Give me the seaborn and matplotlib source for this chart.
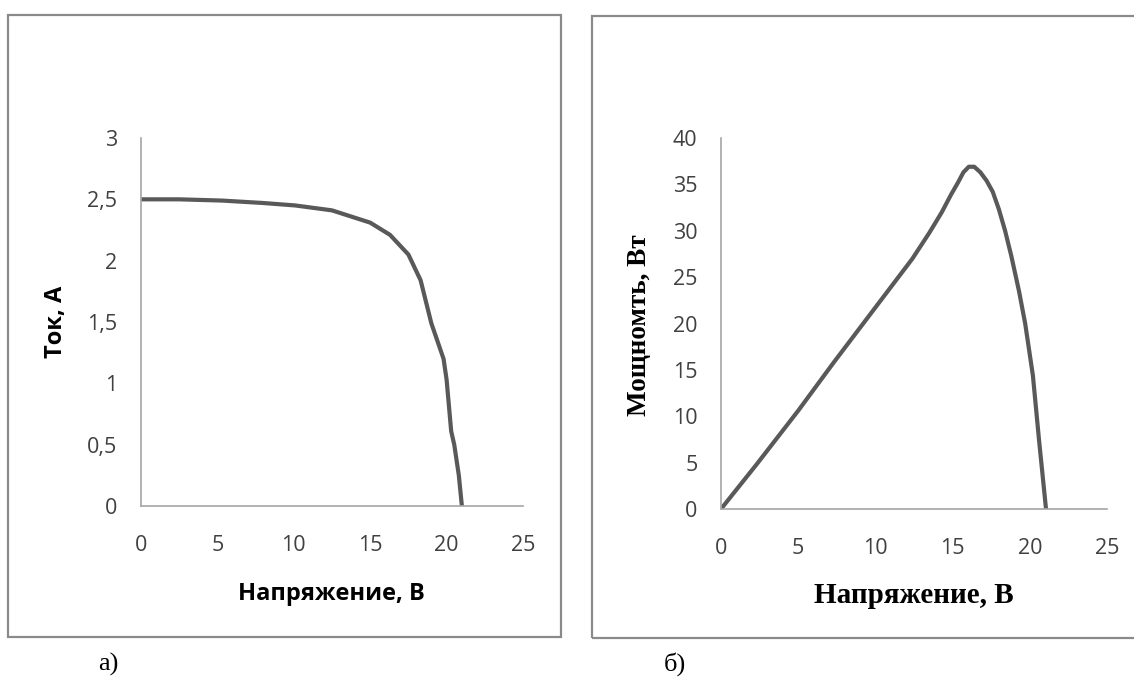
import numpy as np
import pandas as pd
import matplotlib
matplotlib.use("Agg")
import matplotlib.pyplot as plt
from matplotlib.patches import Rectangle
import seaborn as sns

# ---- data ----
iv_voltage = [0, 2.5, 5.3, 8.0, 10.1, 12.5, 15.0, 16.3, 17.5, 18.3, 19.0, 19.8, 20.0, 20.3, 20.5, 20.8, 21.0]
iv_current = [2.5, 2.5, 2.49, 2.47, 2.45, 2.41, 2.31, 2.21, 2.05, 1.84, 1.49, 1.20, 1.03, 0.61, 0.50, 0.25, 0.0]

pv_voltage = [0, 2.3, 5.0, 7.3, 9.85, 12.4, 13.5, 14.3, 14.9, 15.35, 15.7, 16.05, 16.4, 16.8, 17.2, 17.6, 18.0, 18.4, 18.8, 19.3, 19.7, 20.2, 20.6, 21.05]
pv_power = [0, 4.8, 10.6, 15.8, 21.4, 27.0, 29.8, 32.0, 33.9, 35.2, 36.3, 36.9, 36.9, 36.3, 35.4, 34.2, 32.3, 30.0, 27.3, 23.5, 20.0, 14.4, 7.4, 0.0]

x_ticks = [0, 5, 10, 15, 20, 25]
x_ticklabels = ["0", "5", "10", "15", "20", "25"]
iv_yticks = [0, 0.5, 1, 1.5, 2, 2.5, 3]
iv_yticklabels = ["0", "0,5", "1", "1,5", "2", "2,5", "3"]
pv_yticks = [0, 5, 10, 15, 20, 25, 30, 35, 40]
pv_yticklabels = ["0", "5", "10", "15", "20", "25", "30", "35", "40"]

x_title = "Напряжение, В"
iv_y_title = "Ток, А"
pv_y_title = "Мощномть, Вт"
panel_labels = ["а)", "б)"]

# ---- style ----
sns.set_theme(style="white")
plt.rcParams['font.family'] = ['Open Sans', 'DejaVu Sans']

W, H = 1134, 677
fig = plt.figure(figsize=(W / 100, H / 100), dpi=100)
fig.patch.set_facecolor("white")

def fx(px):
    return px / W

def fy(py):
    return 1 - py / H

# chart frames (Excel chart areas)
frame_color = "#8a8a8a"
fig.add_artist(Rectangle((fx(8), fy(637)), fx(561) - fx(8), fy(15) - fy(637),
                         transform=fig.transFigure, fill=False, ec=frame_color, lw=1.6))
fig.add_artist(Rectangle((fx(592), fy(638)), fx(1150) - fx(592), fy(16) - fy(638),
                         transform=fig.transFigure, fill=False, ec=frame_color, lw=1.6))

ax1 = fig.add_axes([fx(141), fy(506), fx(523) - fx(141), fy(138) - fy(506)])
ax2 = fig.add_axes([fx(721), fy(509), fx(1107) - fx(721), fy(138) - fy(509)])

line_color = "#595959"
df1 = pd.DataFrame({"U": iv_voltage, "I": iv_current})
df2 = pd.DataFrame({"U": pv_voltage, "P": pv_power})
sns.lineplot(data=df1, x="U", y="I", ax=ax1, color=line_color, linewidth=3.0,
             estimator=None, sort=False)
sns.lineplot(data=df2, x="U", y="P", ax=ax2, color=line_color, linewidth=3.0,
             estimator=None, sort=False)
for ln in ax1.lines + ax2.lines:
    ln.set_solid_joinstyle("round")
    ln.set_solid_capstyle("round")

tick_color = "#404040"
for ax, yt, ytl, ymax in [(ax1, iv_yticks, iv_yticklabels, 3), (ax2, pv_yticks, pv_yticklabels, 40)]:
    ax.set_facecolor("none")
    ax.set_xlim(0, 25)
    ax.set_ylim(0, ymax)
    ax.set_xticks(x_ticks)
    ax.set_xticklabels(x_ticklabels)
    ax.set_yticks(yt)
    ax.set_yticklabels(ytl)
    for s in ["top", "right"]:
        ax.spines[s].set_visible(False)
    for s in ["left", "bottom"]:
        ax.spines[s].set_color("#a6a6a6")
        ax.spines[s].set_linewidth(1.2)
    ax.tick_params(axis="both", length=0, labelsize=15.5, colors=tick_color)
    ax.tick_params(axis="x", pad=21)
    ax.tick_params(axis="y", pad=17)
    ax.grid(False)

# axis titles
ax1.set_xlabel(x_title, fontsize=17, fontweight="bold", color="black")
ax1.set_ylabel(iv_y_title, fontsize=17, fontweight="bold", color="black")
ax1.xaxis.set_label_coords(0.499, -0.239)
ax1.xaxis.label.set_va("center")
ax1.yaxis.set_label_coords(-0.2225, 0.501)
ax1.yaxis.label.set_va("center")

serif = ["Liberation Serif", "DejaVu Serif"]
ax2.set_xlabel(x_title, fontsize=21, fontweight="bold", color="black", family=serif)
ax2.set_ylabel(pv_y_title, fontsize=19.5, fontweight="bold", color="black", family=serif)
ax2.xaxis.set_label_coords(0.5, -0.232)
ax2.xaxis.label.set_va("center")
ax2.yaxis.set_label_coords(-0.21, 0.496)
ax2.yaxis.label.set_va("center")

fig.text(fx(108), fy(664), panel_labels[0], ha="center", va="center", fontsize=19,
         family=serif, color="black")
fig.text(fx(675), fy(664), panel_labels[1], ha="center", va="center", fontsize=19,
         family=serif, color="black")

fig.savefig("out.png", dpi=100, facecolor="white")
